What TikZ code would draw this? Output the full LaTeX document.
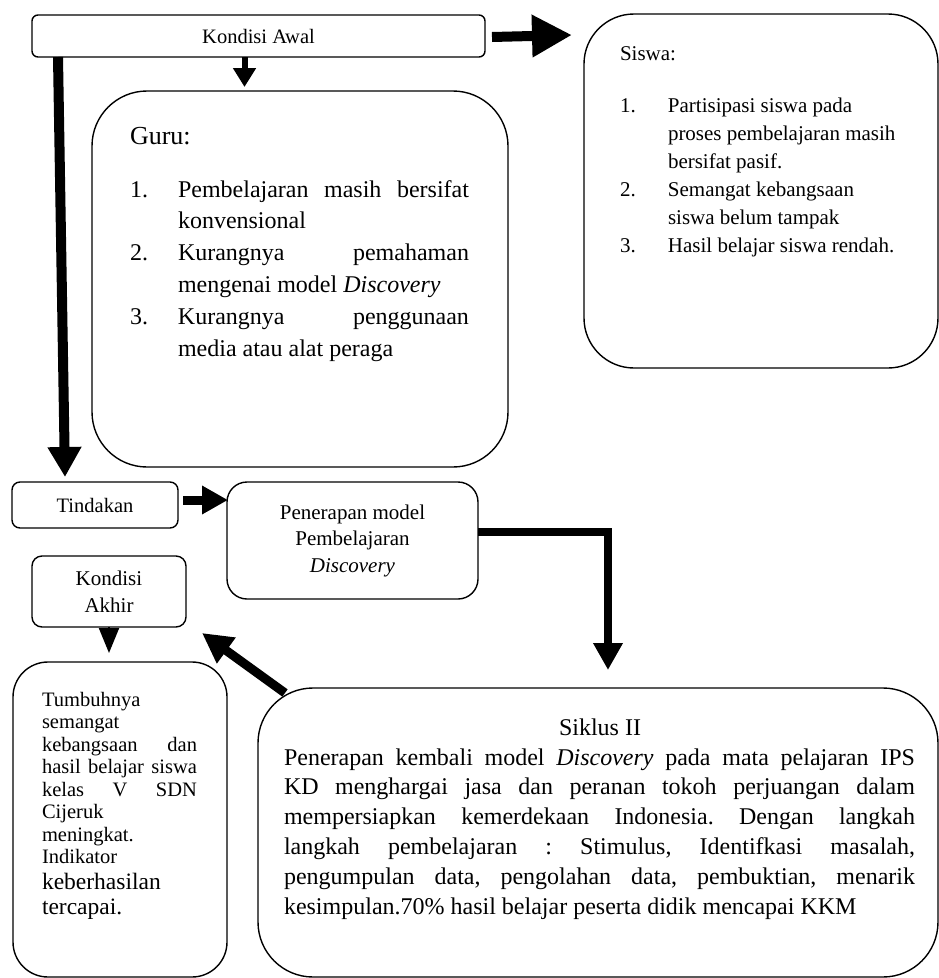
\documentclass[tikz,border=0pt]{standalone}
\usepackage{fontspec}
\setmainfont{Liberation Serif}
\usetikzlibrary{arrows.meta,calc}
\newcommand\hitem[3]{\noindent\hangindent=#1\hangafter=1\makebox[#1][l]{#2}#3\par}
\newcommand\just{\frenchspacing\rightskip=0pt\relax\leftskip=0pt\relax\spaceskip=0pt\relax\xspaceskip=0pt\relax\parfillskip=0pt plus 1fil\relax}
\hbadness=10000 \hfuzz=20pt \tolerance=10000
\begin{document}
\begin{tikzpicture}[x=1pt,y=-1pt,
  box/.style={draw, line width=1.4pt, rounded corners=#1, inner sep=0pt, outer sep=0pt},
  box/.default=8pt,
  txt/.style={inner sep=0pt, outer sep=0pt},
  arrbig/.style={line width=10pt, -{Triangle[length=40pt,width=40pt]}},
  arrsmall/.style={line width=6pt, -{Triangle[length=19pt,width=22pt]}},
  arrlong/.style={line width=10pt, -{Triangle[length=30pt,width=32pt]}},
  arrmid/.style={line width=9pt, -{Triangle[length=26pt,width=27pt]}},
  arrturn/.style={line width=8pt, -{Triangle[length=27pt,width=28pt]}},
  arrhead/.style={line width=2pt, -{Triangle[length=25pt,width=20pt]}},
  arrdiag/.style={line width=9pt, -{Triangle[length=30pt,width=30pt]}}]
\fill[white] (0,0) rectangle (939,978);
\useasboundingbox (0,0) rectangle (939,978);

% boxes
\node[box=6pt, minimum width=453pt, minimum height=42pt,
      font=\fontsize{20.5}{24}\selectfont] (awal) at (258.5,36) {Kondisi Awal};
\node[box=55pt, minimum width=416pt, minimum height=376pt] (guru) at (300,279) {};
\node[box=50pt, minimum width=354pt, minimum height=354pt] (siswa) at (761,191) {};
\node[box=8pt, minimum width=166pt, minimum height=46pt,
      font=\fontsize{20.5}{24}\selectfont] (tindakan) at (95,505) {Tindakan};
\node[box=20pt, minimum width=251pt, minimum height=117pt, align=center,
      font=\fontsize{21}{26.5}\selectfont] (penerapan) at (352.5,540.5)
      {Penerapan model\\Pembelajaran\\\textit{Discovery}};
\node[box=10pt, minimum width=154pt, minimum height=71pt, align=center,
      font=\fontsize{21}{27}\selectfont] (akhir) at (109,591.5) {Kondisi\\Akhir};
\node[box=35pt, minimum width=214pt, minimum height=315pt] (tumbuh) at (120,819.5) {};
\node[box=55pt, minimum width=680pt, minimum height=289pt] (siklus) at (598,832.5) {};

% texts
\node[txt, anchor=base west, font=\fontsize{26}{30}\selectfont] (gurut) at (130,144) {Guru:};
\node[txt, anchor=base west, text width=339pt, align=justify, font=\fontsize{24}{31.8}\selectfont] (gurul) at (130,197)
 {\just
  \hitem{48pt}{1.}{Pembelajaran masih bersifat\linebreak konvensional}%
  \hitem{48pt}{2.}{Kurangnya pemahaman\linebreak mengenai model \textit{Discovery}}%
  \hitem{48pt}{3.}{Kurangnya penggunaan\linebreak media atau alat peraga}};

\node[txt, anchor=base west, font=\fontsize{21}{24}\selectfont] (siswat) at (620,60) {Siswa:};
\node[txt, anchor=base west, text width=300pt, align=justify, font=\fontsize{21}{28}\selectfont] (siswal) at (620,112)
 {\just
  \hitem{48pt}{1.}{Partisipasi siswa pada\newline proses pembelajaran masih\newline bersifat pasif.}%
  \hitem{48pt}{2.}{Semangat kebangsaan\newline siswa belum tampak}%
  \hitem{48pt}{3.}{Hasil belajar siswa rendah.}};

\node[txt, anchor=base west, text width=155pt, align=justify, font=\fontsize{20.5}{22.5}\selectfont] (tumbuht) at (42,706)
 {\just\noindent Tumbuhnya\newline semangat\newline \makebox[155pt][s]{kebangsaan dan}\newline
  \makebox[155pt][s]{hasil belajar siswa}\newline
  \makebox[155pt][s]{kelas V SDN}\newline Cijeruk\newline meningkat.\newline Indikator\par
  \noindent\fontsize{23.5}{25.5}\selectfont keberhasilan\newline tercapai.\par};

\node[txt, anchor=base, font=\fontsize{24}{28}\selectfont] (siklust) at (600,735) {Siklus II};
\node[txt, anchor=base west, text width=631pt, align=justify, font=\fontsize{24}{29.8}\selectfont] (sikluss) at (284,765)
 {\just\noindent
  Penerapan kembali model \textit{Discovery} pada mata pelajaran IPS\linebreak
  KD menghargai jasa dan peranan tokoh perjuangan dalam\linebreak
  mempersiapkan kemerdekaan Indonesia. Dengan langkah\linebreak
  langkah pembelajaran : Stimulus, Identifkasi masalah,\linebreak
  pengumpulan data, pengolahan data, pembuktian, menarik\linebreak
  kesimpulan.70\% hasil belajar peserta didik mencapai KKM\par};

% connectors
\draw[arrbig] ($(awal.east)+(7,1)$) -- ($(awal.east -| siswa.west)+(-12,-1)$);
\draw[arrsmall] ($(awal.south)+(-14,0)$) -- ($(awal.south |- guru.north)+(-14,-4)$);
\draw[arrlong] ($(awal.south west)+(26,0)$) -- ($(tindakan.north west)+(53,-5)$);
\draw[arrmid] ($(tindakan.east)+(5,-5)$) -- ($(tindakan.east -| penerapan.west)+(1,-5)$);
\draw[arrturn] ($(penerapan.east)+(0,-8.5)$) -| ($(siklus.north)+(10,-18)$);
\draw[arrhead] (akhir.south) -- ($(akhir.south |- tumbuh.north)+(0,-9)$);
\draw[arrdiag] ($(siklus.north west)+(27,5)$) -- ($(akhir.south east)+(16,6)$);
\end{tikzpicture}
\end{document}
